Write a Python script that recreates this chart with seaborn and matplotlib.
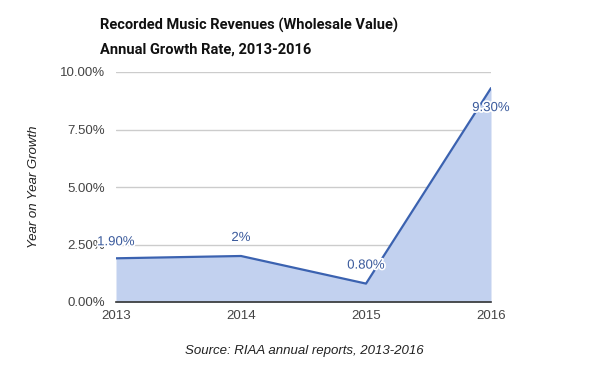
import matplotlib
matplotlib.use("Agg")
import matplotlib.pyplot as plt
import matplotlib.patheffects as pe
import seaborn as sns
import pandas as pd

years = [2013, 2014, 2015, 2016]
growth = [1.9, 2.0, 0.8, 9.3]
labels = ["1.90%", "2%", "0.80%", "9.30%"]
yticks = [0.0, 2.5, 5.0, 7.5, 10.0]
ytick_labels = ["0.00%", "2.50%", "5.00%", "7.50%", "10.00%"]

df = pd.DataFrame({"year": years, "growth": growth})

sns.set_theme(style="white")
plt.rcParams["font.family"] = ["Liberation Sans", "DejaVu Sans"]

fig = plt.figure(figsize=(6.08, 3.76), dpi=100)
ax = fig.add_axes([116/608, 1 - 302/376, 375/608, 230/376])

line_color = "#3b62b0"
fill_color = "#c2d1ef"
ax.fill_between(df["year"], df["growth"], 0, color=fill_color, lw=0, zorder=2)
sns.lineplot(data=df, x="year", y="growth", ax=ax, color=line_color, lw=1.6, zorder=3)

ax.set_xlim(2013, 2016)
ax.set_ylim(0, 10)
ax.set_yticks(yticks)
ax.set_yticklabels(ytick_labels)
ax.set_xticks(years)
ax.set_xticklabels([str(y) for y in years])
ax.grid(axis="y", color="#cccccc", lw=1, zorder=0)
ax.set_axisbelow(True)
for s in ["top", "right", "left"]:
    ax.spines[s].set_visible(False)
ax.spines["bottom"].set_color("#333333")
ax.spines["bottom"].set_linewidth(1.2)
ax.spines["bottom"].set_zorder(4)
ax.tick_params(axis="both", length=0, labelsize=9.5, colors="#444444")
ax.tick_params(axis="y", pad=8)
ax.tick_params(axis="x", pad=6)
ax.set_xlabel("")
ax.set_ylabel("Year on Year Growth", fontsize=9.5, style="italic", color="#222222", labelpad=14)

offsets = [-16, -18, -18, 20]
for x, y, t, o in zip(years, growth, labels, offsets):
    ax.annotate(t, (x, y), xytext=(0, -o), textcoords="offset pixels",
                ha="center", va="center", fontsize=9.5, color="#3a5a9c", zorder=5,
                annotation_clip=False,
                path_effects=[pe.withStroke(linewidth=2.5, foreground="white")])

title_font = ["Roboto", "Liberation Sans", "DejaVu Sans"]
fig.text(100/608, 1 - 25/376, "Recorded Music Revenues (Wholesale Value)", fontsize=10.5,
         fontweight="bold", color="#111111", ha="left", va="center", family=title_font)
fig.text(100/608, 1 - 50/376, "Annual Growth Rate, 2013-2016", fontsize=10.5,
         fontweight="bold", color="#111111", ha="left", va="center", family=title_font)
fig.text(304/608, 1 - 351/376, "Source: RIAA annual reports, 2013-2016", fontsize=9.5,
         style="italic", color="#222222", ha="center", va="center")

fig.savefig("out.png", dpi=100, facecolor="white")
